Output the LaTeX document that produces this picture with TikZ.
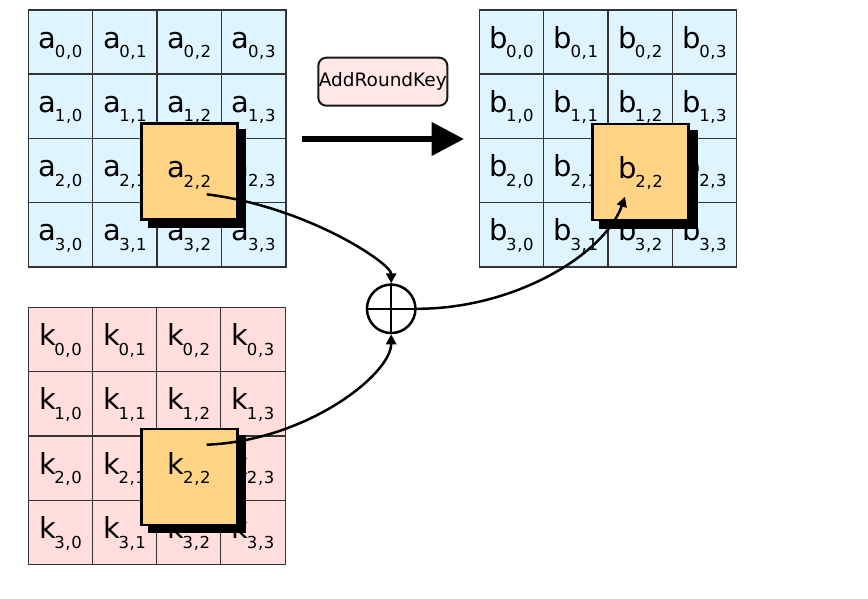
\documentclass[tikz,border=0pt]{standalone}
\usepackage{fontspec}
\setmainfont{DejaVu Sans}
\usetikzlibrary{arrows.meta,shadows}
\definecolor{cellblue}{HTML}{DEF5FF}
\definecolor{cellpink}{HTML}{FFDEDC}
\definecolor{hlorange}{HTML}{FFD485}
\definecolor{keybox}{HTML}{FFE8E6}
\newcommand{\ent}[3]{{\fontsize{29}{29}\selectfont #1}\kern-1.5pt\raisebox{-9.5pt}{\fontsize{16.5}{16.5}\selectfont #2\kern0.6pt,\kern0.6pt#3}}
\tikzset{
  celltext/.style={inner sep=0pt, text height=22pt, text depth=10pt, anchor=center},
  cellbox/.style={celltext, draw=black!80, line width=1.3pt, minimum size=64.4pt},
  hlbox/.style={celltext, draw=black, fill=hlorange, line width=2.5pt, minimum size=96pt,
    drop shadow={shadow xshift=7.5pt, shadow yshift=-7pt, shadow scale=1.03, fill=black, opacity=1}},
  conn/.style={line width=2.5pt, -{Triangle[length=10pt,width=10pt]}},
  opbox/.style={draw=black!90, fill=keybox, line width=2pt, rounded corners=8pt,
    minimum width=129pt, minimum height=48pt, inner sep=0pt, font=\fontsize{18.5}{18.5}\selectfont},
  xorop/.style={circle, draw=black, line width=2.5pt, minimum size=48.5pt, inner sep=0pt}
}
\begin{document}
\begin{tikzpicture}[x=1pt,y=-1pt]
\useasboundingbox (0,0) rectangle (868,598);
% grids
\foreach \r in {0,...,3} {
  \foreach \c in {0,...,3} {
    \node[cellbox, fill=cellblue] (a\r\c) at (28.3+64.4*\c+32.2, 10+64.2*\r+32.1) {\ent{a}{\r}{\c}};
    \node[cellbox, fill=cellblue] (b\r\c) at (479.3+64.35*\c+32.2, 10+64.2*\r+32.1) {\ent{b}{\r}{\c}};
    \node[cellbox, fill=cellpink] (k\r\c) at (28.3+64.2*\c+32.1, 307.3+64.35*\r+32.2) {\ent{k}{\r}{\c}};
  }
}
% highlighted bytes
\node[hlbox] (ahl) at (189.3,171.5) {\ent{a}{2}{2}};
\node[hlbox] (bhl) at (640.7,172) {\ent{b}{2}{2}};
\node[hlbox] (khl) at (189.3,476.8) {};
\node[celltext] (kt) at (189.3,468.2) {\ent{k}{2}{2}};
% operation label and arrow
\node[opbox] (ark) at (382.8,81.7) {AddRoundKey};
\coordinate (bigA) at (301.7,139);
\coordinate (bigB) at (464,139);
\draw[line width=6pt, -{Triangle[length=32.5pt,width=32.5pt]}] (bigA) -- (bigB);
% xor
\node[xorop] (xor) at (391.2,308.8) {};
\draw[line width=2.5pt] (xor.north) -- (xor.south);
\draw[line width=2.2pt] (xor.west) -- (xor.east);
% connectors
\coordinate (astart) at (206.7,194.3);
\coordinate (kstart) at (206.7,444.7);
\coordinate (btip) at (625,196.7);
\draw[conn] (astart) .. controls +(100,12.5) and +(0,-20) .. (xor.north);
\draw[conn] (kstart) .. controls +(100,-4) and +(0,40) .. (xor.south);
\draw[conn] (xor.east) .. controls +(100,0) and +(-19.8,56.4) .. (btip);
\end{tikzpicture}
\end{document}
